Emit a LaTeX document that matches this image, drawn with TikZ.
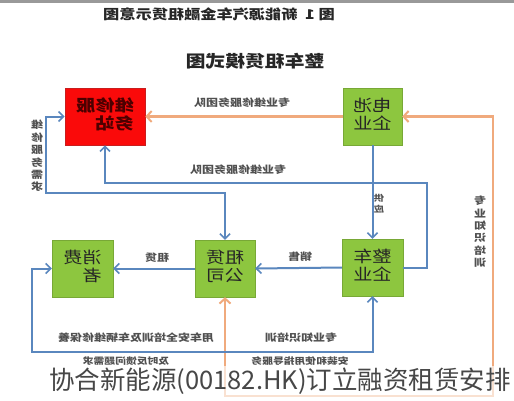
\documentclass[tikz,border=0pt]{standalone}
\usepackage{fontspec}
\setmainfont{Noto Sans CJK SC}
\usetikzlibrary{arrows.meta}
\definecolor{boxgreen}{RGB}{141,198,63}
\definecolor{boxred}{RGB}{250,10,10}
\definecolor{rededge}{RGB}{200,30,30}
\definecolor{lineblue}{RGB}{90,135,190}
\definecolor{lineorange}{RGB}{240,170,125}
\definecolor{labgray}{RGB}{80,80,80}
\newcommand{\mir}[1]{\scalebox{-1.2}[1]{#1}}
\newcommand{\twol}[2]{\mir{\begin{tabular}{@{}l@{}}#1\\[-2pt]#2\end{tabular}}}
\tikzset{
  gbox/.style={fill=boxgreen, draw=boxgreen!85!black, line width=0.4pt, minimum width=60pt, minimum height=57pt, inner sep=0pt, font=\fontsize{16}{20}\selectfont, text=black!85},
  rbox/.style={fill=boxred, draw=rededge, line width=0.6pt, minimum width=80pt, minimum height=57pt, inner sep=0pt, font=\fontsize{16}{20}\selectfont\bfseries, text=black!70!red},
  bl/.style={draw=lineblue, line width=2pt, arrows={-{Straight Barb[length=5pt,width=10pt,line width=1.6pt]}}},
  bl2/.style={draw=lineblue, line width=2pt, arrows={{Straight Barb[length=5pt,width=10pt,line width=1.6pt]}-{Straight Barb[length=5pt,width=10pt,line width=1.6pt]}}},
  ol/.style={draw=lineorange, line width=2.6pt, arrows={-{Straight Barb[length=5pt,width=11pt,line width=2pt]}}},
  ol2/.style={draw=lineorange, line width=2.6pt, arrows={{Straight Barb[length=5pt,width=11pt,line width=2pt]}-{Straight Barb[length=5pt,width=11pt,line width=2pt]}}},
  lab/.style={font=\fontsize{10}{11}\selectfont\bfseries, text=labgray, inner sep=1pt},
  vlab/.style={font=\fontsize{10}{12}\selectfont\bfseries, text=labgray, inner sep=1pt, align=center}
}
\begin{document}
\begin{tikzpicture}[x=1pt,y=-1pt]
\useasboundingbox (0,0) rectangle (514,400);
\fill[white] (0,0) rectangle (514,400);
\fill[black!40] (0,0) rectangle (514,2.5);
% titles
\node[font=\fontsize{13.5}{15}\selectfont\bfseries, text=black!85] (t1) at (219,14) {\mir{图 1\ \ 新能源汽车金融租赁示意图}};
\node[font=\fontsize{16.5}{18}\selectfont\bfseries, text=black!85] (t2) at (255,61) {\mir{整车租赁模式图}};
% boxes
\node[rbox] (red) at (105,116.5) {\twol{维修服}{务站}};
\node[gbox, minimum width=59pt] (bat) at (372.5,116.5) {\twol{电池}{企业}};
\node[gbox, minimum width=61pt] (car) at (372.5,267.5) {\twol{整车}{企业}};
\node[gbox] (rent) at (225,268.5) {\twol{租赁}{公司}};
\node[gbox, minimum width=61pt] (con) at (82.5,268.5) {\twol{消费}{者}};
% coordinates
\coordinate (b1) at (427,183);
\coordinate (b2) at (46,193);
\coordinate (b3) at (32,352);
\coordinate (o1) at (225,396);
\coordinate (o2) at (493,396);
% orange connectors
\draw[ol] (bat.west) -- (red.east);
\draw[ol2] (rent.south) -- (o1) -- (o2) |- (bat.east);
% blue connectors
\draw[bl] (bat.south) -- (car.north);
\draw[bl] (car.east) -| (b1) -| (red.south);
\draw[bl2] (red.west) -| (b2) -| (rent.north);
\draw[bl] (car.west) -- (rent.east);
\draw[bl] (rent.west) -- (con.east);
\draw[bl2] (con.west) -| (b3) -| (car.south);
% labels
\node[lab] (l1) at (242,103) {\mir{专业维修服务团队}};
\node[lab] (l2) at (238,170) {\mir{专业维修服务团队}};
\node[vlab] (l3) at (37,156) {\mir{\shortstack{维\\修\\服\\务\\需\\求}}};
\node[vlab, font=\fontsize{8.5}{10}\selectfont\bfseries] (l4) at (379,204) {\mir{\shortstack{供\\应}}};
\node[lab] (l5) at (300,257) {\mir{销售}};
\node[lab] (l6) at (157,258) {\mir{租赁}};
\node[vlab] (l7) at (480,232) {\mir{\shortstack{专\\业\\知\\识\\培\\训}}};
\node[lab, fill=white] (l8) at (136,338) {\mir{用车安全培训及车辆维修保養}};
\node[lab, fill=white] (l9) at (301,338) {\mir{专业知识培训}};
\node[lab, font=\fontsize{9}{10}\selectfont\bfseries] (l10) at (126,361) {\mir{及时反馈问题需求}};
\node[lab, font=\fontsize{9}{10}\selectfont\bfseries] (l11) at (300,361) {\mir{安装和使用指导服务}};
% caption overlay
\fill[white, opacity=0.65] (40,366) rectangle (514,400);
\node[font=\fontsize{25.5}{27}\selectfont, text=black!72, inner sep=0pt, anchor=center] (cap) at (280,381) {协合新能源(00182.HK)订立融资租赁安排};
\end{tikzpicture}
\end{document}
